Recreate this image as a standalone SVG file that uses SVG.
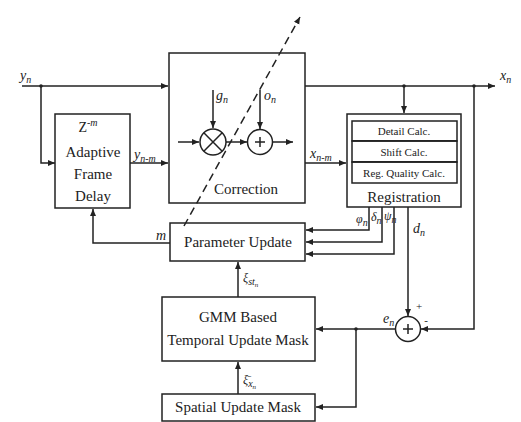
<svg xmlns="http://www.w3.org/2000/svg" width="521" height="422" viewBox="0 0 521 422">
<defs>
<marker id="ar" markerWidth="8" markerHeight="8" refX="7" refY="4" orient="auto" markerUnits="userSpaceOnUse">
<path d="M0,1 L7,4 L0,7 Z" fill="#222"/>
</marker>
<style>
.b{fill:#fff;stroke:#222;stroke-width:1.5}
.l{fill:none;stroke:#222;stroke-width:1.5}
.t{font-family:"Liberation Serif",serif;font-size:15px;fill:#222;text-anchor:middle}
.s{font-family:"Liberation Serif",serif;font-size:11px;fill:#222;text-anchor:middle}
.i{font-family:"Liberation Serif",serif;font-size:14px;font-style:italic;fill:#222}
.sub{font-size:10px}
</style>
</defs>
<rect width="521" height="422" fill="#fff"/>
<g id="connectors">
<path class="l" d="M22,86 H168" marker-end="url(#ar)"/>
<path class="l" d="M41,86 V163 H55" marker-end="url(#ar)"/>
<path class="l" d="M130,163 H168" marker-end="url(#ar)"/>
<path class="l" d="M170,243 H93 V209" marker-end="url(#ar)"/>
<path class="l" d="M305,86 H495" marker-end="url(#ar)"/>
<path class="l" d="M404,86 V113" marker-end="url(#ar)"/>
<path class="l" d="M305,163 H346" marker-end="url(#ar)"/>
<path class="l" d="M369,207 V230 H306" marker-end="url(#ar)"/>
<path class="l" d="M382,207 V242 H306" marker-end="url(#ar)"/>
<path class="l" d="M394,207 V254 H306" marker-end="url(#ar)"/>
<path class="l" d="M408,207 V316" marker-end="url(#ar)"/>
<path class="l" d="M474,86 V329 H421" marker-end="url(#ar)"/>
<path class="l" d="M395,329 H316" marker-end="url(#ar)"/>
<path class="l" d="M356,329 V407 H316" marker-end="url(#ar)"/>
<path class="l" d="M238,297 V262" marker-end="url(#ar)"/>
<path class="l" d="M238,394 V362" marker-end="url(#ar)"/>
<circle cx="41" cy="86" r="1.8" fill="#222"/>
<circle cx="404" cy="86" r="1.8" fill="#222"/>
<circle cx="474" cy="86" r="1.8" fill="#222"/>
<circle cx="356" cy="329" r="1.8" fill="#222"/>
</g>
<g id="delay">
<rect class="b" x="55" y="114" width="75" height="94"/>
<text class="i" x="88" y="132" text-anchor="middle" style="font-style:normal">Z<tspan class="sub" dy="-6" font-style="italic">-m</tspan></text>
<text class="t" x="93" y="157">Adaptive</text>
<text class="t" x="93" y="179">Frame</text>
<text class="t" x="93" y="201">Delay</text>
</g>
<g id="correction">
<rect class="b" x="169" y="53" width="136" height="150"/>
<path class="l" d="M178,142 H199" marker-end="url(#ar)"/>
<path class="l" d="M226,142 H247" marker-end="url(#ar)"/>
<path class="l" d="M273,142 H293" marker-end="url(#ar)"/>
<path class="l" d="M213,90 V128" marker-end="url(#ar)"/>
<path class="l" d="M260,90 V129" marker-end="url(#ar)"/>
<circle class="b" cx="213" cy="142" r="13"/>
<path class="l" d="M203.8,132.8 L222.2,151.2 M222.2,132.8 L203.8,151.2"/>
<circle class="b" cx="260" cy="142" r="12.5"/>
<path class="l" d="M255,142 H265 M260,137 V147" stroke-width="1"/>
<text class="i" x="216" y="100">g<tspan class="sub" dy="3">n</tspan></text>
<text class="i" x="264" y="100">o<tspan class="sub" dy="3">n</tspan></text>
<text class="t" x="246" y="194">Correction</text>
</g>
<g id="registration">
<rect class="b" x="347" y="114" width="114" height="93"/>
<rect class="b" x="352" y="121" width="105" height="20"/>
<rect class="b" x="352" y="141" width="105" height="21"/>
<rect class="b" x="352" y="162" width="105" height="21"/>
<path class="l" d="M352,141 H457 M352,162 H457" stroke-width="2.5"/>
<text class="s" x="404" y="135">Detail Calc.</text>
<text class="s" x="404" y="156">Shift Calc.</text>
<text class="s" x="404" y="177">Reg. Quality Calc.</text>
<text class="t" x="404" y="202">Registration</text>
</g>
<g id="param">
<rect class="b" x="170" y="223" width="135" height="38"/>
<text class="t" x="238" y="247">Parameter Update</text>
</g>
<g id="gmm">
<rect class="b" x="162" y="297" width="153" height="64"/>
<text class="t" x="238" y="322">GMM Based</text>
<text class="t" x="238" y="345">Temporal Update Mask</text>
</g>
<g id="spatial">
<rect class="b" x="162" y="394" width="153" height="27"/>
<text class="t" x="238" y="412">Spatial Update Mask</text>
</g>
<g id="sum">
<circle class="b" cx="408" cy="329" r="12.5"/>
<path class="l" d="M403,329 H413 M408,324 V334" stroke-width="1"/>
<text class="s" x="419" y="310">+</text>
<text class="s" x="426" y="324">-</text>
</g>
<g id="labels">
<text class="i" x="20" y="80">y<tspan class="sub" dy="3">n</tspan></text>
<text class="i" x="134" y="159">y<tspan class="sub" dy="3">n-m</tspan></text>
<text class="i" x="310" y="158">x<tspan class="sub" dy="3">n-m</tspan></text>
<text class="i" x="500" y="80">x<tspan class="sub" dy="3">n</tspan></text>
<text class="i" x="156" y="240">m</text>
<text class="i" x="356" y="223" style="font-size:12px">φ<tspan class="sub" dy="3">n</tspan></text>
<text class="i" x="371" y="221" style="font-size:12px">δ<tspan class="sub" dy="3">n</tspan></text>
<text class="i" x="384" y="220" style="font-size:12px">ψ<tspan class="sub" dy="3">n</tspan></text>
<text class="i" x="413" y="233">d<tspan class="sub" dy="3">n</tspan></text>
<text class="i" x="383" y="323">e<tspan class="sub" dy="3">n</tspan></text>
<text class="i" x="243" y="282" style="font-size:12px">ξ<tspan class="sub" dy="3">st</tspan><tspan style="font-size:7px" dy="2">n</tspan></text>
<text class="i" x="243" y="384" style="font-size:12px">ξ̄<tspan class="sub" dy="3">x</tspan><tspan style="font-size:7px" dy="2">n</tspan></text>
</g>
<g id="dashed">
<path class="l" d="M184,226 L300,17" stroke-dasharray="8,5" marker-end="url(#ar)"/>
</g>
</svg>
